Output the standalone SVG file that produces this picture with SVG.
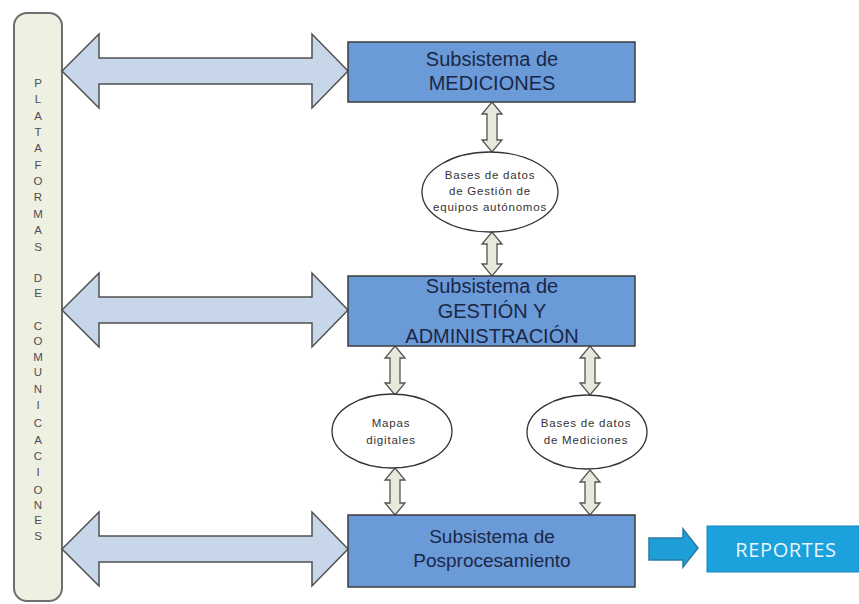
<svg xmlns="http://www.w3.org/2000/svg" width="859" height="604" viewBox="0 0 859 604">
<style>
.big{fill:#c7d6e9;stroke:#505050;stroke-width:1.5;stroke-linejoin:miter}
.sm{fill:#e7e9da;stroke:#555;stroke-width:1.3}
.box{fill:#6b9ad8;stroke:#3c3c3c;stroke-width:1.5}
.bt{font-family:"Liberation Sans",Arial,sans-serif;font-size:20px;fill:#1a2846;text-anchor:middle}
.ell{fill:#fff;stroke:#333;stroke-width:1.3}
.et{font-family:"Liberation Sans",Arial,sans-serif;font-size:11.5px;letter-spacing:0.8px;fill:#333;text-anchor:middle}
.lt{font-family:"Liberation Sans",Arial,sans-serif;font-size:11.5px;fill:#4e4e4e;text-anchor:middle}
</style>
<rect width="859" height="604" fill="#fff"/>
<g id="plataformas">
<rect x="14" y="13" width="48" height="588" rx="13" fill="#eef0e2" stroke="#6e6e6e" stroke-width="2"/>
<text class="lt"><tspan x="38" y="87">P</tspan><tspan x="38" y="103">L</tspan><tspan x="38" y="120">A</tspan><tspan x="38" y="136">T</tspan><tspan x="38" y="152">A</tspan><tspan x="38" y="169">F</tspan><tspan x="38" y="185">O</tspan><tspan x="38" y="201">R</tspan><tspan x="38" y="218">M</tspan><tspan x="38" y="234">A</tspan><tspan x="38" y="251">S</tspan><tspan x="38" y="282">D</tspan><tspan x="38" y="297">E</tspan><tspan x="38" y="330">C</tspan><tspan x="38" y="345">O</tspan><tspan x="38" y="361">M</tspan><tspan x="38" y="376">U</tspan><tspan x="38" y="393">N</tspan><tspan x="38" y="409">I</tspan><tspan x="38" y="427">C</tspan><tspan x="38" y="444">A</tspan><tspan x="38" y="460">C</tspan><tspan x="38" y="476">I</tspan><tspan x="38" y="494">O</tspan><tspan x="38" y="509">N</tspan><tspan x="38" y="524">E</tspan><tspan x="38" y="540">S</tspan></text>
</g>
<g id="connectors">
<path class="big" d="M62,71 L99,34 L99,58 L312,58 L312,34 L348,71 L312,108 L312,84 L99,84 L99,108 Z"/>
<path class="big" d="M62,310 L99,273 L99,297 L312,297 L312,273 L348,310 L312,347 L312,323 L99,323 L99,347 Z"/>
<path class="big" d="M62,549 L99,512 L99,536 L312,536 L312,512 L348,549 L312,586 L312,562 L99,562 L99,586 Z"/>
<path class="sm" d="M492,102 L502,114 L497,114 L497,140 L502,140 L492,152 L482,140 L487,140 L487,114 L482,114 Z"/>
<path class="sm" d="M492,232 L502,244 L497,244 L497,264 L502,264 L492,276 L482,264 L487,264 L487,244 L482,244 Z"/>
<path class="sm" d="M395,346 L405,358 L400,358 L400,383 L405,383 L395,395 L385,383 L390,383 L390,358 L385,358 Z"/>
<path class="sm" d="M590,346 L600,358 L595,358 L595,383 L600,383 L590,395 L580,383 L585,383 L585,358 L580,358 Z"/>
<path class="sm" d="M395,468 L405,480 L400,480 L400,503 L405,503 L395,515 L385,503 L390,503 L390,480 L385,480 Z"/>
<path class="sm" d="M590,470 L600,482 L595,482 L595,503 L600,503 L590,515 L580,503 L585,503 L585,482 L580,482 Z"/>
<path d="M649,538 L683,538 L683,529 L698,548 L683,567 L683,560 L649,560 Z" fill="#1f9fd7" stroke="#2a7aa3" stroke-width="1.5"/>
</g>
<g id="mediciones">
<rect class="box" x="348" y="42" width="287" height="60"/>
<text class="bt"><tspan x="492" y="66">Subsistema de</tspan><tspan x="492" y="90">MEDICIONES</tspan></text>
</g>
<g id="bd-gestion">
<ellipse class="ell" cx="490" cy="192" rx="68" ry="40"/>
<text class="et"><tspan x="490" y="179">Bases de datos</tspan><tspan x="490" y="195">de Gestión de</tspan><tspan x="490" y="211">equipos autónomos</tspan></text>
</g>
<g id="gestion">
<rect class="box" x="348" y="276" width="287" height="70"/>
<text class="bt"><tspan x="492" y="293">Subsistema de</tspan><tspan x="492" y="318">GESTIÓN Y</tspan><tspan x="492" y="343">ADMINISTRACIÓN</tspan></text>
</g>
<g id="mapas">
<ellipse class="ell" cx="392" cy="431" rx="60" ry="37"/>
<text class="et"><tspan x="391" y="427">Mapas</tspan><tspan x="391" y="444">digitales</tspan></text>
</g>
<g id="bd-mediciones">
<ellipse class="ell" cx="587" cy="432" rx="60" ry="37"/>
<text class="et"><tspan x="586" y="427">Bases de datos</tspan><tspan x="586" y="444">de Mediciones</tspan></text>
</g>
<g id="posprocesamiento">
<rect class="box" x="348" y="515" width="287" height="72"/>
<text class="bt" style="font-size:19px"><tspan x="492" y="543">Subsistema de</tspan><tspan x="492" y="567">Posprocesamiento</tspan></text>
</g>
<g id="reportes">
<rect x="707" y="526" width="152" height="46" fill="#1ba1dc" stroke="#1b86b8" stroke-width="1"/>
<text x="786" y="557" font-family="'Open Sans',sans-serif" font-size="20" letter-spacing="0.6" fill="#eaf6fb" text-anchor="middle">REPORTES</text>
</g>
</svg>
